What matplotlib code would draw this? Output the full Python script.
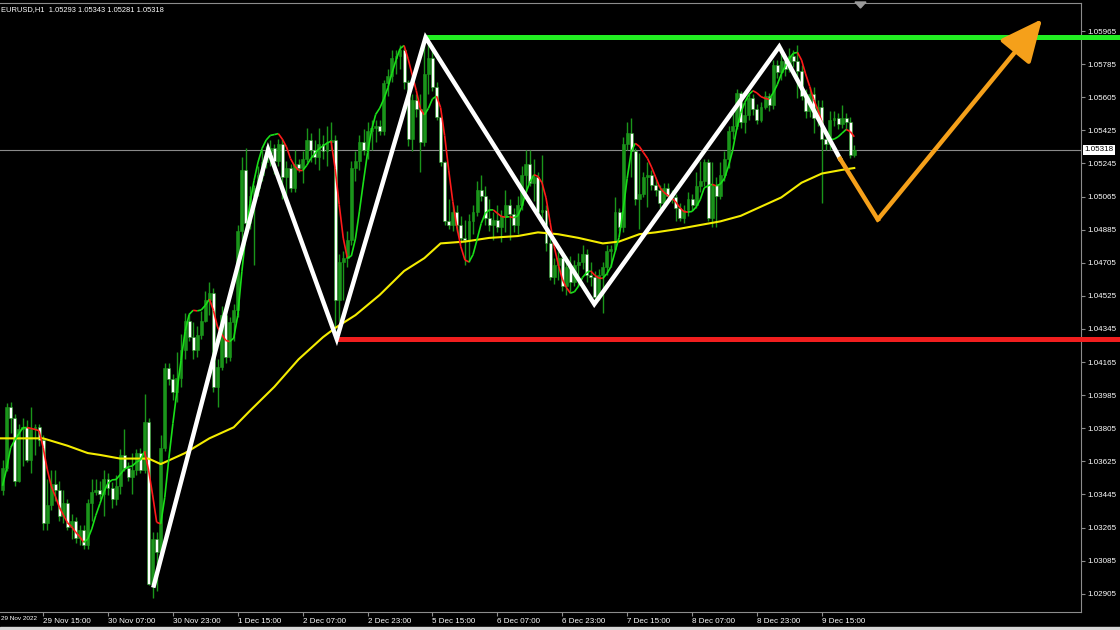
import numpy as np
import matplotlib
matplotlib.use("Agg")
import matplotlib.pyplot as plt
import matplotlib.transforms as mtransforms
from matplotlib.collections import LineCollection
from matplotlib.patches import Polygon, Rectangle

# EURUSD H1, bar 0 = 29 Nov 15:00, first visible bar = -10
first_open = 1.0347
closes = [
    1.0359, 1.0392, 1.0386, 1.0352, 1.0380, 1.0381, 1.0363, 1.0380, 1.0381, 1.0374,
    1.0329, 1.0339, 1.0350, 1.0347, 1.0333, 1.0340, 1.0327, 1.0330, 1.0321, 1.0325,
    1.0317, 1.0340, 1.0346, 1.0347, 1.0345, 1.0353, 1.0348, 1.0342, 1.0349, 1.0366,
    1.0359, 1.0354, 1.0358, 1.0367, 1.0358, 1.0384, 1.0296, 1.0320, 1.0313, 1.0370,
    1.0413, 1.0407, 1.0400, 1.0408, 1.0423, 1.0439, 1.0430, 1.0423, 1.0431, 1.0439,
    1.0450, 1.0454, 1.0403, 1.0414, 1.0442, 1.0419, 1.0438, 1.0445, 1.0488, 1.0521,
    1.0492, 1.0507, 1.0511, 1.0518, 1.0525, 1.0530, 1.0533, 1.0526, 1.0535, 1.0517,
    1.0522, 1.0511, 1.0524, 1.0522, 1.0527, 1.0537, 1.0532, 1.0528, 1.0535, 1.0531,
    1.0536, 1.0537, 1.0450, 1.0471, 1.0473, 1.0483, 1.0522, 1.0526, 1.0536, 1.0532,
    1.0542, 1.0544, 1.0545, 1.0542, 1.0568, 1.0572, 1.0582, 1.0583, 1.0586, 1.0569,
    1.0538, 1.0559, 1.0554, 1.0536, 1.0573, 1.0582, 1.0566, 1.0550, 1.0525, 1.0493,
    1.0491, 1.0498, 1.0491, 1.0484, 1.0483, 1.0493, 1.0498, 1.0510, 1.0507, 1.0495,
    1.0491, 1.0494, 1.0490, 1.0496, 1.0502, 1.0497, 1.0491, 1.0502, 1.0518, 1.0524,
    1.0514, 1.0517, 1.0498, 1.0499, 1.0481, 1.0463, 1.0469, 1.0473, 1.0458, 1.0468,
    1.0460, 1.0469, 1.0471, 1.0475, 1.0464, 1.0463, 1.0452, 1.0464, 1.0468, 1.0477,
    1.0478, 1.0498, 1.0490, 1.0535, 1.0541, 1.0531, 1.0505, 1.0508, 1.0517, 1.0518,
    1.0513, 1.0510, 1.0503, 1.0511, 1.0507, 1.0506, 1.0500, 1.0495, 1.0499, 1.0505,
    1.0502, 1.0512, 1.0515, 1.0525, 1.0495, 1.0513, 1.0507, 1.0518, 1.0527, 1.0542,
    1.0545, 1.0563, 1.0547, 1.0551, 1.0560, 1.0554, 1.0548, 1.0555, 1.0561, 1.0556,
    1.0578, 1.0574, 1.0580, 1.0576, 1.0583, 1.0580, 1.0575, 1.0561, 1.0553, 1.0562,
    1.0549, 1.0555, 1.0538, 1.0535, 1.0548, 1.0549, 1.0546, 1.0549, 1.0547, 1.05293,
    1.05318,
]
# wick lengths above / below the body, in pips
wick_up = [
    4, 2, 3, 2, 3, 5, 4, 12, 2, 2,
    3, 14, 8, 8, 5, 7, 2, 4, 2, 3,
    3, 2, 7, 6, 5, 5, 3, 3, 6, 3,
    14, 3, 9, 2, 3, 15, 2, 4, 4, 7,
    3, 3, 3, 14, 9, 4, 4, 8, 5, 5,
    5, 6, 3, 4, 5, 3, 3, 3, 3, 7,
    12, 5, 2, 5, 7, 4, 4, 2, 3, 3,
    4, 2, 8, 3, 4, 7, 4, 5, 9, 5,
    9, 10, 3, 4, 4, 5, 4, 5, 4, 7,
    5, 4, 3, 3, 2, 4, 4, 3, 3, 2,
    1, 3, 3, 8, 20, 9, 7, 3, 1, 1,
    12, 4, 4, 5, 10, 4, 4, 5, 8, 5,
    10, 4, 8, 3, 8, 3, 3, 5, 5, 8,
    8, 10, 3, 30, 3, 3, 4, 4, 2, 6,
    6, 3, 5, 5, 3, 7, 3, 3, 3, 3,
    2, 8, 2, 4, 6, 8, 2, 22, 3, 7,
    3, 3, 3, 3, 3, 3, 2, 3, 3, 4,
    3, 8, 11, 2, 2, 12, 4, 7, 4, 3,
    7, 2, 1, 7, 2, 2, 3, 3, 3, 2,
    3, 3, 8, 3, 4, 3, 9, 3, 4, 4,
    4, 4, 4, 4, 5, 4, 3, 7, 3, 3,
    2.5,
]
wick_dn = [
    3, 2, 8, 3, 1, 20, 1, 7, 14, 3,
    4, 4, 3, 6, 3, 4, 2, 7, 3, 4,
    2, 2, 10, 2, 3, 12, 4, 5, 3, 4,
    2, 2, 9, 3, 2, 2, 1, 8, 21, 4,
    2, 3, 4, 5, 5, 5, 2, 5, 4, 2,
    1, 8, 3, 11, 2, 3, 2, 10, 4, 9,
    4, 3, 38, 4, 3, 3, 7, 7, 3, 12,
    10, 2, 2, 2, 8, 2, 7, 4, 7, 4,
    8, 4, 21, 11, 21, 5, 3, 7, 5, 3,
    5, 10, 8, 2, 2, 7, 3, 9, 7, 4,
    4, 7, 4, 16, 2, 11, 2, 2, 2, 2,
    2, 3, 4, 3, 14, 12, 7, 2, 3, 4,
    3, 8, 3, 8, 9, 14, 4, 5, 3, 9,
    2, 10, 2, 3, 4, 2, 4, 8, 3, 5,
    6, 2, 11, 4, 4, 5, 4, 2, 21, 4,
    9, 1, 2, 3, 3, 14, 3, 16, 2, 16,
    3, 3, 3, 2, 3, 3, 7, 2, 3, 3,
    3, 2, 3, 3, 2, 5, 17, 2, 3, 5,
    4, 2, 3, 6, 3, 3, 2, 1, 1, 3,
    2, 3, 4, 4, 2, 3, 15, 2, 4, 3,
    8, 4, 35, 3, 3, 3, 3, 2, 4, 2,
    1.2,
]

# slow moving average (yellow)
slow_ma_bar = [-11, -3, 0, 6, 11, 14, 19, 24, 26, 29, 32, 35, 41, 47, 51, 57, 63, 69, 72, 77,
               83, 89, 94, 98, 104, 110, 117, 122, 127, 132, 138, 142, 147, 151, 157, 162, 167,
               172, 177, 182, 187, 192, 197, 200]
slow_ma = [1.0375, 1.0375, 1.0375, 1.0371, 1.0367, 1.0366, 1.0364, 1.0364, 1.0364, 1.0361,
           1.0364, 1.0367, 1.0375, 1.0381, 1.0390, 1.0403, 1.0418, 1.0430, 1.0435, 1.0442,
           1.0453, 1.0466, 1.0473, 1.0481, 1.0482, 1.0484, 1.0485, 1.0487, 1.0486, 1.0484,
           1.0481, 1.0482, 1.0486, 1.0487, 1.0489, 1.0491, 1.0493, 1.0496, 1.0501, 1.0506,
           1.0514, 1.0519, 1.0521, 1.0522]
fast_len = 14

# hand drawn objects on the chart
zigzag_bar = [27.3, 55.5, 72.4, 94.3, 135.9, 181.5, 196.5]
zigzag_price = [1.0295, 1.0532, 1.0429, 1.0593, 1.0448, 1.0588, 1.0527]
target_bar = [196.5, 205.8, 246.3]
target_price = [1.0527, 1.0494, 1.0603]
resistance = 1.0593
support = 1.0429
last_price = 1.05318
header = "EURUSD,H1  1.05293 1.05343 1.05281 1.05318"

time_ticks = list(range(0, 193, 16))
time_labels = ["29 Nov 15:00", "30 Nov 07:00", "30 Nov 23:00", "1 Dec 15:00", "2 Dec 07:00",
               "2 Dec 23:00", "5 Dec 15:00", "6 Dec 07:00", "6 Dec 23:00", "7 Dec 15:00",
               "8 Dec 07:00", "8 Dec 23:00", "9 Dec 15:00"]
price_ticks = [round(1.02905 + 0.0018 * k, 5) for k in range(18)]

FONT = "Liberation Sans"
FS = 5.8
CANDLE = "#1a951a"

c = np.array(closes)
o = np.r_[first_open, c[:-1]]
hi = np.maximum(o, c) + np.array(wick_up) / 1e4
lo = np.minimum(o, c) - np.array(wick_dn) / 1e4
x = np.arange(-10, -10 + len(c))

fig = plt.figure(figsize=(11.2, 6.3), dpi=100, facecolor="black")
ax = fig.add_axes([0, 18 / 630, 1081 / 1120, 609 / 630], facecolor="black")
ax.set_xlim(-10.63, 255.9)
ax.set_ylim(1.028057, 1.061173)

# candles
ax.vlines(x, lo, hi, color=CANDLE, lw=1, zorder=2)
body = np.maximum(np.abs(c - o), 0.00003)
bull = c >= o
ax.bar(x[bull], body[bull], bottom=o[bull], width=0.72, color=CANDLE,
       edgecolor=CANDLE, lw=0.4, zorder=2)
ax.bar(x[~bull], body[~bull], bottom=c[~bull], width=0.72, color="white",
       edgecolor=CANDLE, lw=0.4, zorder=2)

# current price line
ax.axhline(last_price, color="#8a8a8a", lw=0.8, zorder=1)

# slow MA
ax.plot(slow_ma_bar, slow_ma, color="#f4ec00", lw=1.5, zorder=3)

# fast hull MA coloured by slope
def wma(v, n):
    w = np.arange(1, n + 1)
    out = np.full(len(v), np.nan)
    for k in range(n - 1, len(v)):
        out[k] = np.dot(v[k - n + 1:k + 1], w) / w.sum()
    return out

pad = np.r_[np.full(2 * fast_len, first_open), c]
raw = 2 * wma(pad, fast_len // 2) - wma(pad, fast_len)
hma = wma(raw, int(np.sqrt(fast_len)))[2 * fast_len:]
pts = np.column_stack([x, hma])
segs = np.stack([pts[:-1], pts[1:]], axis=1)
cols = ["#19e019" if b >= a else "#ff1a1a" for a, b in zip(hma[:-1], hma[1:])]
ax.add_collection(LineCollection(segs, colors=cols, lw=1.2, zorder=4))

# support / resistance
ax.plot([zigzag_bar[3], 265.6], [resistance] * 2, color="#22ee22", lw=3.6,
        solid_capstyle="butt", clip_on=False, zorder=5)
ax.plot([zigzag_bar[2], 265.6], [support] * 2, color="#f01e1e", lw=3.6,
        solid_capstyle="butt", clip_on=False, zorder=5)

# zigzag and projection arrow
ax.plot(zigzag_bar, zigzag_price, color="white", lw=3.2, zorder=6,
        solid_joinstyle="miter")
ax.plot(target_bar[:2], target_price[:2], color="#f5a01a", lw=3.2, zorder=6)
ax.annotate("", xy=(target_bar[2], target_price[2]), xytext=(target_bar[1], target_price[1]),
            arrowprops=dict(arrowstyle="-|>,head_length=2.6,head_width=1.2",
                            color="#f5a01a", lw=3.2, shrinkA=0, shrinkB=0), zorder=6)

# axes styling
for side in ["top", "right", "bottom"]:
    ax.spines[side].set_color("#8c8c8c")
ax.spines["left"].set_visible(False)
ax.yaxis.tick_right()
ax.set_yticks(price_ticks)
ax.set_yticklabels([f"{p:.5f}" for p in price_ticks])
ax.set_xticks(time_ticks)
ax.set_xticklabels(time_labels)
ax.tick_params(colors="#8c8c8c", labelcolor="white", labelsize=FS, length=3, pad=1.5)
for lab in ax.get_xticklabels():
    lab.set_ha("left")
    lab.set_fontfamily(FONT)
for lab in ax.get_yticklabels():
    lab.set_fontfamily(FONT)

# last price tag
trans = mtransforms.blended_transform_factory(ax.transAxes, ax.transData)
ax.text(1.0035, last_price, f"{last_price:.5f}", transform=trans, ha="left", va="center",
        fontsize=FS, family=FONT, color="black", zorder=7, clip_on=False,
        bbox=dict(facecolor="white", edgecolor="none", pad=1.0))

# header and first date label
fig.text(1 / 1120, 1 - 10 / 630, header, color="white", fontsize=5.4, family=FONT, va="center")
fig.text(1 / 1120, 1 - 619 / 630, "29 Nov 2022", color="white", fontsize=4.6, family=FONT,
         ha="left", va="center")

# chart shift marker and bottom tab strip
fig.add_artist(Polygon([[855 / 1120, 1 - 2 / 630], [866 / 1120, 1 - 2 / 630],
                        [860.5 / 1120, 1 - 8 / 630]], closed=True, transform=fig.transFigure,
                       color="#9a9a9a"))
fig.add_artist(Rectangle((0, 0), 1, 3 / 630, transform=fig.transFigure, color="#d6d6d6"))

fig.savefig("out.png", dpi=100, facecolor="black")
